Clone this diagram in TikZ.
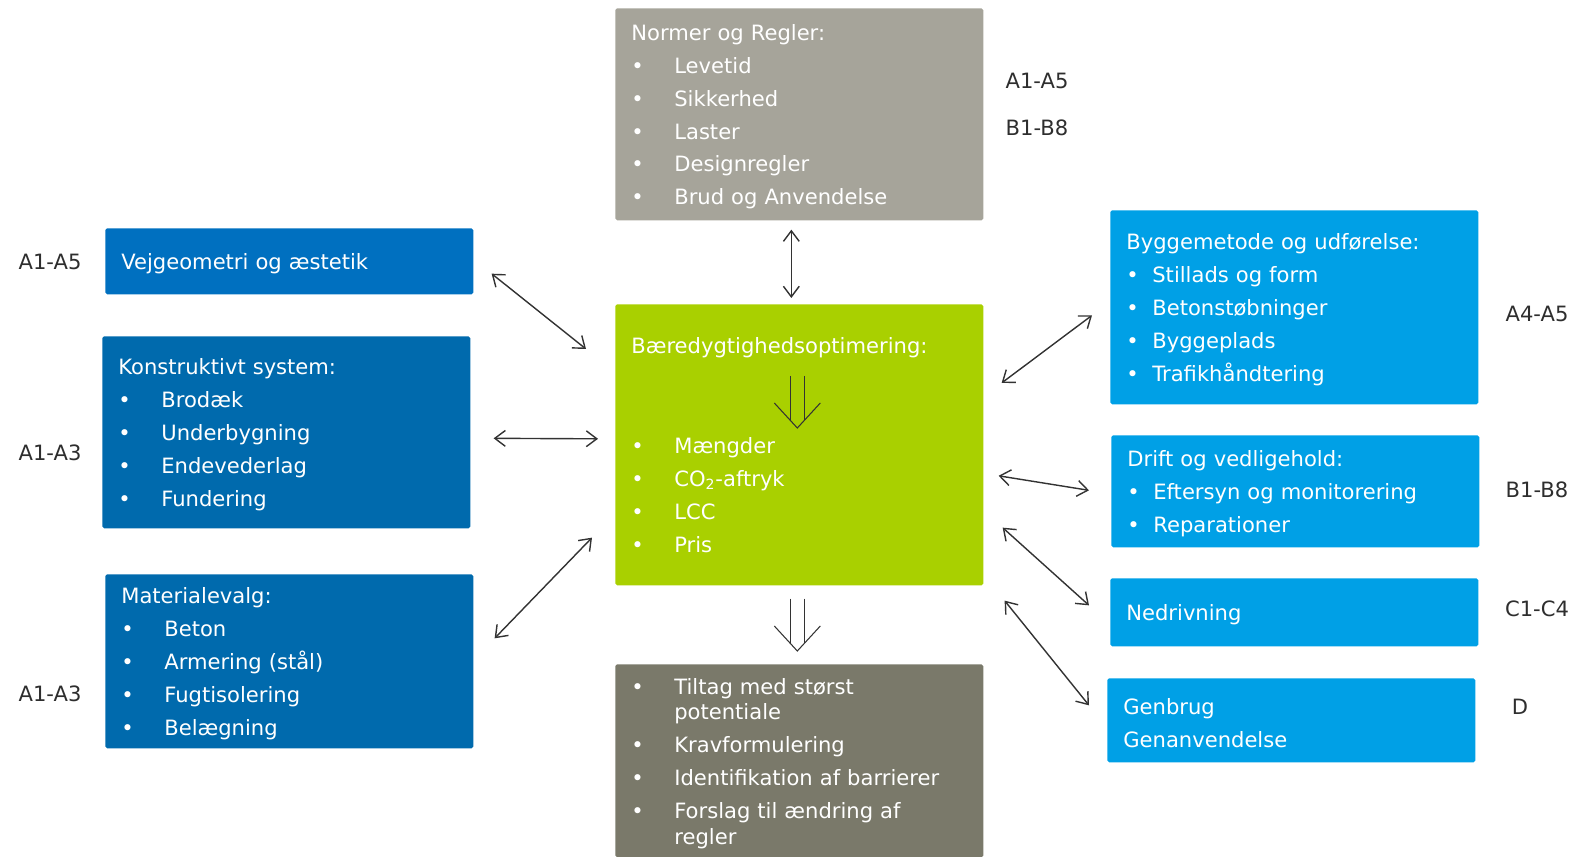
\documentclass[tikz,border=0pt]{standalone}
\usepackage{fontspec}
\setmainfont{DejaVu Sans}
\usetikzlibrary{arrows.meta,positioning,calc}

\definecolor{normgray}{HTML}{A6A49A}
\definecolor{optgreen}{HTML}{A9D000}
\definecolor{resgray}{HTML}{7A796A}
\definecolor{vejblue}{HTML}{0070C0}
\definecolor{darkblue}{HTML}{006AAD}
\definecolor{lightblue}{HTML}{00A0E6}
\definecolor{arrgray}{HTML}{333333}
\definecolor{lblgray}{HTML}{2E2E2E}

\newcommand{\itm}[1]{\makebox[0.86cm][l]{\textbullet}#1}
\newcommand{\itmr}[1]{\makebox[0.52cm][l]{\textbullet}#1}
% open double arrow pointing down, from #1 to tip #2
\newcommand{\dnarrow}[2]{%
  \draw[dn] ($(#1)+(-7,0)$) -- ($(#2)+(-7,-8)$);
  \draw[dn] ($(#1)+(7,0)$) -- ($(#2)+(7,-8)$);
  \draw[dn] ($(#2)+(-23,-25)$) -- (#2) -- ($(#2)+(23,-25)$);}

\begin{document}
\begin{tikzpicture}[x=0.02cm, y=-0.02cm,
  box/.style={anchor=north west, rounded corners=1pt, text=white, align=left, minimum width=7.36cm, text width=6.72cm, inner xsep=0.32cm, inner ysep=0pt, font=\fontsize{12}{18.7}\selectfont, execute at begin node={\rule{0pt}{12pt}}},
  txt/.style={text=white, align=left, inner sep=0pt, font=\fontsize{12}{18.7}\selectfont},
  lbl/.style={text=lblgray, inner sep=0pt, font=\fontsize{12}{14}\selectfont},
  arr/.style={{Straight Barb[length=6pt,width=9pt]}-{Straight Barb[length=6pt,width=9pt]}, line width=0.8pt, arrgray},
  dn/.style={line width=0.6pt, draw=arrgray}
]
\useasboundingbox (0,0) rectangle (1573,857);

% middle column
\node[box, fill=normgray, minimum height=4.24cm] (norm) at (615,8) {Normer og Regler:\\ \itm{Levetid}\\ \itm{Sikkerhed}\\ \itm{Laster}\\ \itm{Designregler}\\ \itm{Brud og Anvendelse}};
\node[box, fill=optgreen, minimum height=5.62cm] (green) at (615,304) {};
\node[txt, anchor=west] (gtitle) at ($(green.north west)+(16,44)$) {Bæredygtighedsoptimering:};
\node[txt, anchor=west] (gitems) at ($(green.north west)+(16,191)$) {\itm{Mængder}\\ \itm{CO\textsubscript{2}-aftryk}\\ \itm{LCC}\\ \itm{Pris}};
\node[box, fill=resgray, minimum height=3.86cm] (res) at (615,664) {\itm{Tiltag med størst}\\[-4pt] \hspace*{0.86cm}potentiale\\ \itm{Kravformulering}\\ \itm{Identifikation af barrierer}\\ \itm{Forslag til ændring af}\\[-4pt] \hspace*{0.86cm}regler};

% left column
\node[box, fill=vejblue, minimum height=1.32cm] (vej) at (105,228) {Vejgeometri og æstetik};
\node[box, fill=darkblue, minimum height=3.84cm] (kon) at (102,336) {Konstruktivt system:\\ \itm{Brodæk}\\ \itm{Underbygning}\\ \itm{Endevederlag}\\ \itm{Fundering}};
\node[box, fill=darkblue, minimum height=3.48cm] (mat) at (105,574) {Materialevalg:\\ \itm{Beton}\\ \itm{Armering (stål)}\\ \itm{Fugtisolering}\\ \itm{Belægning}};

% right column
\node[box, fill=lightblue, minimum height=3.88cm] (byg) at (1110,210) {Byggemetode og udførelse:\\ \itmr{Stillads og form}\\ \itmr{Betonstøbninger}\\ \itmr{Byggeplads}\\ \itmr{Trafikhåndtering}};
\node[box, fill=lightblue, minimum height=2.24cm] (drift) at (1111,435) {Drift og vedligehold:\\ \itmr{Eftersyn og monitorering}\\ \itmr{Reparationer}};
\node[box, fill=lightblue, minimum height=1.36cm] (ned) at (1110,578) {Nedrivning};
\node[box, fill=lightblue, minimum height=1.68cm] (gen) at (1107,678) {Genbrug\\Genanvendelse};

% phase labels
\node[lbl] (lnormA) at (1037,81) {A1-A5};
\node[lbl] (lnormB) at (1037,128) {B1-B8};
\node[lbl] (lvej) at (50,262) {A1-A5};
\node[lbl] (lkon) at (50,453) {A1-A3};
\node[lbl] (lmat) at (50,694) {A1-A3};
\node[lbl] (lbyg) at (1537,314) {A4-A5};
\node[lbl] (ldrift) at (1537,490) {B1-B8};
\node[lbl] (lned) at (1537,609) {C1-C4};
\node[lbl] (lgen) at (1520,707) {D};

% connectors
\draw[arr] ($(norm.south)+(-8,9)$) -- ($(green.north)+(-8,-6)$);
\draw[arr] ($(vej.south east)+(18,-21)$) -- ($(green.north west)+(-29,45)$);
\draw[arr] ($(kon.east)+(23,6)$) -- ($(green.west)+(-17,-6)$);
\draw[arr] ($(mat.east)+(21,-23)$) -- ($(green.south west)+(-23,-48)$);
\draw[arr] ($(green.north east)+(18,79)$) -- ($(byg.west)+(-18,8)$);
\draw[arr] ($(green.east)+(15,31)$) -- ($(drift.west)+(-22,-1)$);
\draw[arr] ($(green.south east)+(19,-58)$) -- ($(ned.west)+(-21,-7)$);
\draw[arr] ($(green.south east)+(21,15)$) -- ($(gen.west)+(-18,-15)$);

\coordinate (dnAa) at ($(green.north)+(-2,72)$);
\coordinate (dnAb) at ($(green.north)+(-2,124)$);
\dnarrow{dnAa}{dnAb}
\coordinate (dnBa) at ($(green.south)+(-2,13)$);
\coordinate (dnBb) at ($(res.north)+(-2,-13)$);
\dnarrow{dnBa}{dnBb}
\end{tikzpicture}
\end{document}
